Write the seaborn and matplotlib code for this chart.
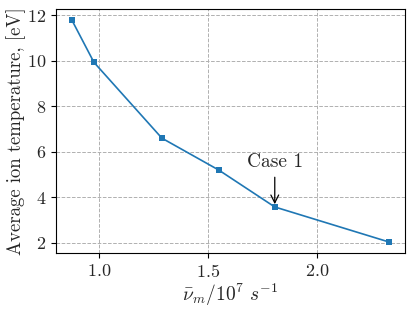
import matplotlib
matplotlib.use('Agg')
import matplotlib.pyplot as plt
import pandas as pd
import seaborn as sns

# collision frequency (10^7 s^-1) vs average ion temperature (eV)
nu_m = [0.876, 0.977, 1.289, 1.550, 1.807, 2.332]
t_ion = [11.78, 9.93, 6.60, 5.20, 3.58, 2.04]

df = pd.DataFrame({'nu': nu_m, 'T': t_ion})

sns.set_style('ticks')
plt.rcParams['font.family'] = 'serif'
plt.rcParams['font.serif'] = ['cmr10', 'DejaVu Serif']
plt.rcParams['mathtext.fontset'] = 'cm'
plt.rcParams['axes.formatter.use_mathtext'] = True
plt.rcParams['axes.unicode_minus'] = False

fig, ax = plt.subplots(figsize=(4.15, 3.11), dpi=100)
fig.subplots_adjust(left=0.135, right=0.976, top=0.971, bottom=0.186)

sns.lineplot(data=df, x='nu', y='T', marker='s', markersize=4, markeredgewidth=0,
             color='#1f77b4', linewidth=1.2, ax=ax)

ax.grid(True, linestyle='--', color='#b0b0b0', linewidth=0.7)
ax.set_axisbelow(True)
for s in ax.spines.values():
    s.set_color('black')
    s.set_linewidth(0.8)

ax.set_xlabel(r'$\bar{\nu}_m/10^7\ s^{-1}$', fontsize=14, labelpad=1)
ax.set_ylabel('Average ion temperature, [eV]', fontsize=13.5, labelpad=1)
ax.tick_params(labelsize=13, direction='out', length=3.5, width=0.8, color='black')
ax.set_xticks([1.0, 1.5, 2.0])
ax.set_yticks([2, 4, 6, 8, 10, 12])

ax.annotate('Case 1', xy=(nu_m[4], t_ion[4]), xytext=(nu_m[4], 5.15),
            ha='center', va='bottom', fontsize=14,
            arrowprops=dict(arrowstyle='->', color='black', lw=0.9))

fig.savefig('out.png', dpi=100)
